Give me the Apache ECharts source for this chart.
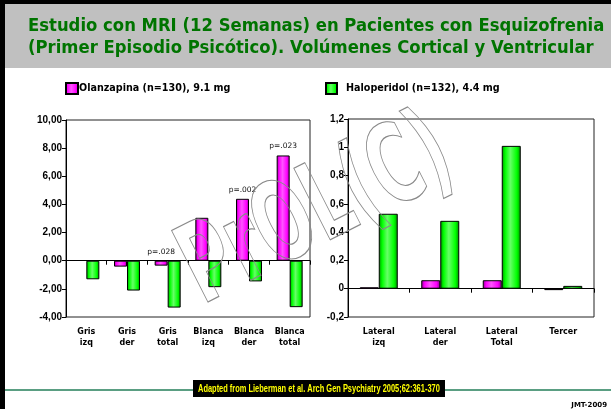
<!DOCTYPE html>
<html>
<head>
<meta charset="utf-8">
<script src="https://cdn.jsdelivr.net/npm/echarts@6/dist/echarts.min.js"></script>
<style>
html,body{margin:0;padding:0;background:#fff;}
#chart{width:611px;height:409px;}
</style>
</head>
<body>
<div id="chart"></div>
<script>
// ---- data ----
const titleLines = ['Estudio con MRI (12 Semanas) en Pacientes con Esquizofrenia', '(Primer Episodio Psicótico). Volúmenes Cortical y Ventricular'];
const seriesNames = ['Olanzapina (n=130), 9.1 mg', 'Haloperidol (n=132), 4.4 mg'];
const catsLeft = ['Gris\nizq', 'Gris\nder', 'Gris\ntotal', 'Blanca\nizq', 'Blanca\nder', 'Blanca\ntotal'];
const olzLeft = [0.03, -0.42, -0.35, 3.05, 4.4, 7.48];
const halLeft = [-1.32, -2.12, -3.33, -1.88, -1.47, -3.3];
const pLabels = ['', '', 'p=.028', '', 'p=.002', 'p=.023'];
const catsRight = ['Lateral\nizq', 'Lateral\nder', 'Lateral\nTotal', 'Tercer'];
const olzRight = [0.01, 0.06, 0.06, -0.01];
const halRight = [0.53, 0.48, 1.01, 0.02];
const sourceText = 'Adapted from Lieberman et al. Arch Gen Psychiatry 2005;62:361-370';
const creditText = 'JMT-2009';
const watermarkText = 'PrOL(C)';

function grad(dark, bright, hi) {
  return new echarts.graphic.LinearGradient(0, 0, 1, 0, [
    {offset: 0, color: dark}, {offset: 0.18, color: bright}, {offset: 0.45, color: hi},
    {offset: 0.8, color: bright}, {offset: 1, color: dark}
  ]);
}
const magFill = grad('#8a008a', '#ff00ff', '#ff55ff');
const grnFill = grad('#008a00', '#00ff00', '#66ff66');

const axisFont = {fontFamily: 'Liberation Sans, sans-serif', fontWeight: 'bold', fontSize: 10, color: '#000'};
const catFont = {fontFamily: 'DejaVu Sans, sans-serif', fontWeight: 'bold', fontSize: 8, color: '#000', lineHeight: 11};
const legendText = {fontFamily: 'DejaVu Sans, sans-serif', fontWeight: 'bold', fontSize: 9.6, color: '#000'};

const chart = echarts.init(document.getElementById('chart'), null, {renderer: 'canvas'});
chart.setOption({
  animation: false,
  backgroundColor: '#fff',
  legend: [
    {data: [seriesNames[0]], left: 65, top: 82, padding: 0, itemWidth: 12, itemHeight: 11, icon: 'rect',
     textStyle: Object.assign({padding: [0, 0, 0, -4]}, legendText)},
    {data: [seriesNames[1]], left: 325, top: 82, padding: 0, itemWidth: 11, itemHeight: 11, icon: 'rect',
     textStyle: Object.assign({padding: [0, 0, 0, 4]}, legendText)}
  ],
  grid: [
    {left: 66, top: 120, width: 244, height: 197, show: true, borderColor: '#222', borderWidth: 1, backgroundColor: 'transparent'},
    {left: 348, top: 119, width: 246, height: 198, show: true, borderColor: '#222', borderWidth: 1, backgroundColor: 'transparent'}
  ],
  xAxis: [
    {gridIndex: 0, type: 'category', data: catsLeft, axisLine: {onZero: true, lineStyle: {color: '#000', width: 1}},
     axisTick: {show: true, length: 4, lineStyle: {color: '#000'}}, axisLabel: Object.assign({margin: 9}, catFont)},
    {gridIndex: 1, type: 'category', data: catsRight, axisLine: {onZero: true, lineStyle: {color: '#000', width: 1}},
     axisTick: {show: true, length: 4, lineStyle: {color: '#000'}}, axisLabel: Object.assign({margin: 9}, catFont)}
  ],
  yAxis: [
    {gridIndex: 0, type: 'value', min: -4, max: 10, interval: 2, splitLine: {show: false},
     axisLine: {show: true, lineStyle: {color: '#000'}}, axisTick: {show: true, length: 4, lineStyle: {color: '#000'}},
     axisLabel: Object.assign({margin: 4, formatter: v => v.toFixed(2).replace('.', ',')}, axisFont)},
    {gridIndex: 1, type: 'value', min: -0.2, max: 1.2, interval: 0.2, splitLine: {show: false},
     axisLine: {show: true, lineStyle: {color: '#000'}}, axisTick: {show: true, length: 4, lineStyle: {color: '#000'}},
     axisLabel: Object.assign({margin: 4, formatter: v => String(Math.round(v * 10) / 10).replace('.', ',')}, axisFont)}
  ],
  series: [
    {name: seriesNames[0], type: 'bar', xAxisIndex: 0, yAxisIndex: 0, data: olzLeft, barWidth: 13, barGap: '0%',
     itemStyle: {color: magFill, borderColor: '#000', borderWidth: 1},
     label: {show: true, position: 'top', distance: 5, formatter: p => pLabels[p.dataIndex],
       fontFamily: 'DejaVu Sans, sans-serif', fontSize: 7.5, color: '#111'}},
    {name: seriesNames[1], type: 'bar', xAxisIndex: 0, yAxisIndex: 0, data: halLeft, barWidth: 13, barGap: '0%',
     itemStyle: {color: grnFill, borderColor: '#000', borderWidth: 1}},
    {name: seriesNames[0], type: 'bar', xAxisIndex: 1, yAxisIndex: 1, data: olzRight, barWidth: 19, barGap: '0%',
     itemStyle: {color: magFill, borderColor: '#000', borderWidth: 1}},
    {name: seriesNames[1], type: 'bar', xAxisIndex: 1, yAxisIndex: 1, data: halRight, barWidth: 19, barGap: '0%',
     itemStyle: {color: grnFill, borderColor: '#000', borderWidth: 1}}
  ],
  graphic: [
    {type: 'rect', shape: {x: 5, y: 4, width: 606, height: 64}, style: {fill: '#c0c0c0'}, z: -10},
    {type: 'rect', shape: {x: 0, y: 0, width: 611, height: 4}, style: {fill: '#000'}, z: 100},
    {type: 'rect', shape: {x: 0, y: 0, width: 5, height: 409}, style: {fill: '#000'}, z: 100},
    {type: 'text', x: 28, y: 27, scaleX: 0.968, style: {text: titleLines[0], fill: '#007400', font: 'bold 17px "DejaVu Sans", sans-serif', verticalAlign: 'middle'}, z: 10},
    {type: 'text', x: 28, y: 49, scaleX: 0.968, style: {text: titleLines[1], fill: '#007400', font: 'bold 17px "DejaVu Sans", sans-serif', verticalAlign: 'middle'}, z: 10},
    {type: 'rect', shape: {x: 5, y: 389, width: 606, height: 2}, style: {fill: '#5a9e82'}, z: 5},
    {type: 'rect', shape: {x: 193, y: 380, width: 252, height: 17}, style: {fill: '#000'}, z: 6},
    {type: 'text', x: 198, y: 389, scaleX: 0.745, style: {text: sourceText, fill: '#ffff00', font: 'bold 10px "Liberation Sans", sans-serif', verticalAlign: 'middle'}, z: 7},
    {type: 'text', x: 607, y: 405, style: {text: creditText, fill: '#000', font: 'bold 7px "DejaVu Sans", sans-serif', align: 'right', verticalAlign: 'middle'}, z: 7},
    {type: 'text', x: 318, y: 214, rotation: 0.47, scaleX: 0.6, style: {text: watermarkText, fill: 'rgba(0,0,0,0)', stroke: '#8a8a8a', lineWidth: 1.2,
      font: 'bold 110px "DejaVu Sans", sans-serif', align: 'center', verticalAlign: 'middle'}, z: 50}
  ]
});
</script>
</body>
</html>
